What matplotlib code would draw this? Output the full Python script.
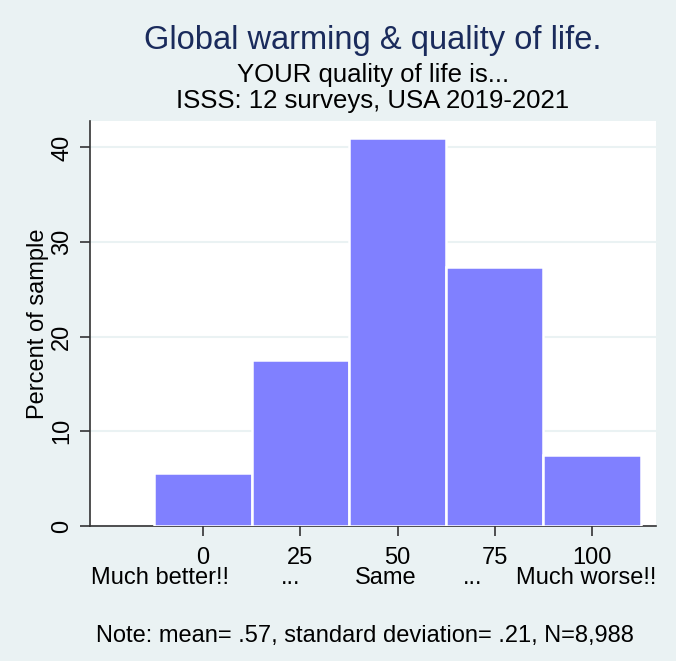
import matplotlib.pyplot as plt

plt.rcParams['font.family'] = ['Liberation Sans', 'DejaVu Sans']

# response scale (0 = much better, 100 = much worse) and percent of sample
scores = [0, 25, 50, 75, 100]
percents = [5.65, 17.5, 41.0, 27.4, 7.5]
tick_words = ['Much better!!', '...', 'Same', '...', 'Much worse!!']
word_shift = [-43, -10, -12, -22, -6]  # px shift of second-line labels

bg = '#EAF2F3'
bar_color = '#8080FF'

fig = plt.figure(figsize=(6.76, 6.61), dpi=100, facecolor=bg)
ax = fig.add_axes([90 / 676, 1 - 526 / 661, 566 / 676, 405 / 661])
ax.set_facecolor('white')

ax.bar(scores, percents, width=25, color=bar_color, edgecolor='white', linewidth=1.8, zorder=3)

ax.set_xlim(-29.05, 116.45)
ax.set_ylim(0, 42.8)
ax.set_yticks([0, 10, 20, 30, 40])
ax.set_xticks(scores)
ax.set_xticklabels([str(s) for s in scores])
ax.yaxis.grid(True, color=bg, linewidth=1.5, zorder=0)

for side in ['top', 'right']:
    ax.spines[side].set_visible(False)
for side in ['left', 'bottom']:
    ax.spines[side].set_color('#333333')
    ax.spines[side].set_linewidth(1.2)

ax.tick_params(axis='both', colors='#333333', length=7, width=1.2, labelsize=17,
               labelcolor='black')
ax.tick_params(axis='x', pad=8)
ax.tick_params(axis='y', pad=5)
plt.setp(ax.get_yticklabels(), rotation=90, va='center')
ax.set_ylabel('Percent of sample', fontsize=17, labelpad=2)

# second line of x labels
for s, w, dx in zip(scores, tick_words, word_shift):
    ax.annotate(w, xy=(s, 0), xycoords=('data', 'axes fraction'),
                xytext=(dx * 0.72, -37.4), textcoords='offset points',
                ha='center', va='center', fontsize=17)

fig.text(373 / 676, 1 - 40 / 661, 'Global warming & quality of life.', ha='center', va='center',
         fontsize=23.5, color='#1A2B5C')
fig.text(373 / 676, 1 - 75 / 661, 'YOUR quality of life is...', ha='center', va='center',
         fontsize=18.5)
fig.text(373 / 676, 1 - 101 / 661, 'ISSS: 12 surveys, USA 2019-2021', ha='center', va='center',
         fontsize=18.5)
fig.text(365 / 676, 1 - 636 / 661, 'Note: mean= .57, standard deviation= .21, N=8,988',
         ha='center', va='center', fontsize=17)

fig.savefig('out.png', dpi=100, facecolor=bg)
